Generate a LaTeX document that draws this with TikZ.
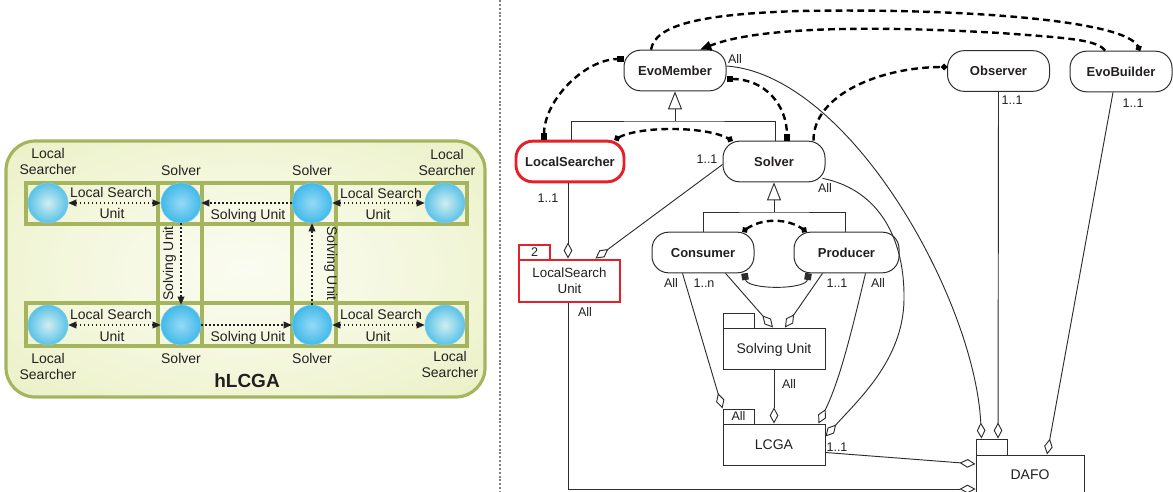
\documentclass[tikz,border=0pt]{standalone}
\usepackage{fontspec}
\setmainfont{Liberation Sans}
\usetikzlibrary{arrows.meta,calc}

% colours
\definecolor{panelin}{RGB}{251,252,242}
\definecolor{panelsoft}{RGB}{242,246,216}
\definecolor{panelmid}{RGB}{226,234,178}
\definecolor{panelout}{RGB}{204,218,128}
\definecolor{panelline}{RGB}{164,181,94}
\definecolor{lscore}{RGB}{208,238,240}
\definecolor{svcore}{RGB}{150,218,245}
\definecolor{ballout}{RGB}{0,160,224}
\definecolor{ballrim}{RGB}{120,205,240}
\definecolor{umlred}{RGB}{230,32,40}
\definecolor{ink}{RGB}{35,31,32}
\definecolor{umlline}{RGB}{45,45,45}

% shadings for the hLCGA panel and its agents
\pgfdeclareradialshading{panelshade}{\pgfpoint{0bp}{0bp}}{color(0bp)=(panelin); color(22bp)=(panelsoft); color(50bp)=(panelmid); color(71bp)=(panelout)}
\pgfdeclareradialshading{lsshade}{\pgfpoint{0bp}{0bp}}{color(0bp)=(lscore); color(44bp)=(ballout); color(47bp)=(ballout); color(50bp)=(ballrim)}
\pgfdeclareradialshading{svshade}{\pgfpoint{0bp}{0bp}}{color(0bp)=(svcore); color(44bp)=(ballout); color(47bp)=(ballout); color(50bp)=(ballrim)}

\tikzset{
  % arrow tips
  sqtip/.tip={Square[length=5pt,width=5pt]},
  dottip/.tip={Circle[length=4.5pt]},
  diam/.tip={Diamond[open,length=12pt,width=6.5pt]},
  gtri/.tip={Triangle[open,length=13.5pt,width=10.5pt]},
  ftri/.tip={Triangle[length=6pt,width=5pt]},
  deptri/.tip={Triangle[length=8.5pt,width=6.5pt]},
  % left panel
  panelgrid/.style={draw=panelline, line width=2.3pt},
  lsball/.style={circle, inner sep=0pt, minimum size=30pt, shade, shading=lsshade, draw=ballrim, line width=0.4pt},
  svball/.style={circle, inner sep=0pt, minimum size=30pt, shade, shading=svshade, draw=ballrim, line width=0.4pt},
  lsarrow/.style={draw=ink, dotted, line width=1pt, ftri-ftri},
  suarrow/.style={draw=ink, dotted, line width=1pt, -ftri},
  lbl/.style={font=\fontsize{10.5}{12}\selectfont, text=ink, inner sep=0pt, anchor=base},
  % right panel
  cls/.style={draw=umlline, line width=0.75pt, fill=white, rounded corners=12.5pt,
    minimum width=76.5pt, minimum height=30.5pt, inner sep=0pt, text=ink,
    font=\bfseries\fontsize{9.75}{11}\selectfont, text height=7pt, text depth=0pt},
  redcls/.style={cls, draw=umlred, line width=2.2pt, minimum width=81pt},
  pkg/.style={draw=umlline, line width=0.75pt, fill=white, minimum width=76.5pt,
    minimum height=30.75pt, inner sep=0pt, text=ink, font=\fontsize{10.5}{12}\selectfont},
  oneline/.style={text height=7.5pt, text depth=0pt},
  pkgtab/.style={draw=umlline, line width=0.75pt, fill=white, minimum width=23.25pt,
    minimum height=11.25pt, inner sep=0pt, text=ink, font=\fontsize{9.4}{10}\selectfont,
    text height=6.7pt, text depth=0pt},
  mult/.style={font=\fontsize{9.4}{10}\selectfont, text=ink, inner sep=0pt, anchor=base},
  assoc/.style={draw=umlline, line width=0.7pt},
  agg/.style={assoc, -diam},
  gen/.style={assoc, -gtri},
  dep/.style={draw=black, line width=1.8pt, dash pattern=on 5pt off 3.2pt},
}

\begin{document}
\begin{tikzpicture}[x=0.75pt, y=-0.75pt]
\useasboundingbox (0,0) rectangle (1173,492);

% ---------------- hLCGA panel ----------------
\path[shade, shading=panelshade, draw=panelline, line width=2.4pt, rounded corners=22pt]
  (6,141) rectangle (485,397);
\draw[panelgrid] (26,183) rectangle (467,224);
\draw[panelgrid] (26,303) rectangle (467,346);
\draw[panelgrid] (158,183) rectangle (202,346);
\draw[panelgrid] (292,183) rectangle (336,346);

\node[lsball] (lstl) at (48,203) {};
\node[svball] (svtl) at (181,203) {};
\node[svball] (svtr) at (312,203) {};
\node[lsball] (lstr) at (445,203) {};
\node[lsball] (lsbl) at (48,325) {};
\node[svball] (svbl) at (181,325) {};
\node[svball] (svbr) at (312,325) {};
\node[lsball] (lsbr) at (445,325) {};

\draw[lsarrow] (lstl) -- (svtl);
\draw[lsarrow] (svtr) -- (lstr);
\draw[lsarrow] (lsbl) -- (svbl);
\draw[lsarrow] (svbr) -- (lsbr);
\draw[suarrow] (svtr) -- (svtl);
\draw[suarrow] (svtl) -- (svbl);
\draw[suarrow] (svbl) -- (svbr);
\draw[suarrow] (svbr) -- (svtr);

\node[lbl] (tl1) at (48,158) {Local};
\node[lbl] (tl2) at (48,174) {Searcher};
\node[lbl] (tl3) at (181,175) {Solver};
\node[lbl] (tl4) at (312,175) {Solver};
\node[lbl] (tl5) at (447,159) {Local};
\node[lbl] (tl6) at (447,175) {Searcher};
\node[lbl] (tl7) at (111,197) {Local Search};
\node[lbl] (tl8) at (112,218) {Unit};
\node[lbl] (tl9) at (381,198) {Local Search};
\node[lbl] (tl10) at (378,219) {Unit};
\node[lbl] (tl11) at (248,219) {Solving Unit};
\node[lbl] (tl12) at (248,341) {Solving Unit};
\node[lbl, rotate=90] (tl13) at (173,263.5) {Solving Unit};
\node[lbl, rotate=-90] (tl14) at (327,263.5) {Solving Unit};
\node[lbl] (tl15) at (111,319) {Local Search};
\node[lbl] (tl16) at (112,341) {Unit};
\node[lbl] (tl17) at (381,319) {Local Search};
\node[lbl] (tl18) at (378,341) {Unit};
\node[lbl] (tl19) at (48,363) {Local};
\node[lbl] (tl20) at (48,379) {Searcher};
\node[lbl] (tl21) at (181,363) {Solver};
\node[lbl] (tl22) at (312,363) {Solver};
\node[lbl] (tl23) at (450,361) {Local};
\node[lbl] (tl24) at (450,377) {Searcher};
\node[lbl, font=\bfseries\fontsize{14.25}{16}\selectfont] (hlcga) at (247,387) {hLCGA};

% separator
\draw[gray, line width=1pt, dash pattern=on 1.5pt off 1.4pt] (500,0) -- (500,492);

% ---------------- UML class model ----------------
\node[cls] (em) at (675,70.5) {EvoMember};
\node[redcls] (ls) at (570,161.5) {LocalSearcher};
\node[cls] (sv) at (774,161.5) {Solver};
\node[cls] (ob) at (998.5,71) {Observer};
\node[cls] (eb) at (1121,71.5) {EvoBuilder};
\node[cls] (co) at (703,252.5) {Consumer};
\node[cls, minimum width=78.75pt] (pr) at (846.5,252.5) {Producer};

\node[pkgtab, draw=umlred, line width=2.2pt] (lsutab) at (534.5,252.5) {2};
\node[pkg, draw=umlred, line width=2.2pt, minimum width=75.75pt, minimum height=31.5pt,
  align=center, font=\fontsize{10}{12}\selectfont] (lsu) at (569.5,281) {LocalSearch\\Unit};
\node[pkgtab] (sutab) at (738.5,320.5) {};
\node[pkg, oneline] (su) at (774,348.5) {Solving Unit};
\node[pkgtab] (lcgatab) at (738.5,416.5) {All};
\node[pkg, oneline] (lcga) at (774,444.5) {LCGA};
\node[pkgtab, minimum height=12pt] (dafotab) at (991.5,447) {};
\node[pkg, oneline, minimum width=81pt, minimum height=29.25pt] (dafo) at (1030,474.5) {DAFO};

% generalisations
\coordinate (gj1) at (675,121);
\draw[gen] (gj1) -- (em.south);
\draw[assoc] ($(ls.north)+(1,0)$) |- (gj1) -| ($(sv.north)+(1,0)$);
\coordinate (gj2) at (774,212);
\draw[gen] (gj2) -- (sv.south);
\draw[assoc] (co.north) |- (gj2) -| ($(pr.north)+(-1.5,0)$);

% dependencies
\draw[dep, sqtip-sqtip] ($(ls.north)+(-26,0)$) .. controls (544,100) and (585,59) .. ($(em.west)+(0,-11.5)$);
\draw[dep, sqtip-sqtip] ($(em.east)+(0,8.5)$) .. controls (765,79) and (787,105) .. ($(sv.north)+(13,0)$);
\draw[dep, dottip-dottip] ($(ls.north east)+(-11,0)$) .. controls (640,126) and (705,126) .. ($(sv.north west)+(10,0)$);
\draw[dep, -dottip] ($(sv.north east)+(-12,0)$) .. controls (813,95) and (880,67) .. ($(ob.west)+(0,-4)$);
\draw[dep, -dottip] ($(em.north)+(-24,0)$) .. controls (655,25) and (700,14) .. (800,11)
  .. controls (960,8) and (1125,20) .. ($(eb.north)+(19,0)$);
\draw[dep, -deptri] ($(eb.north)+(-16,0)$) .. controls (1098,40) and (1070,38) .. (1000,33)
  .. controls (880,26) and (760,26) .. ($(em.north)+(25,0)$);
\draw[dep, dottip-dottip] ($(co.north east)+(-12,0)$) .. controls (762,218) and (787,218) .. ($(pr.north west)+(13,0)$);
\draw[assoc, sqtip-sqtip] ($(co.south east)+(-10,0)$) .. controls (747,290) and (806,290) .. ($(pr.south west)+(15,0)$);

% aggregations
\draw[agg] ($(ls.south)+(-2,0)$) -- ($(lsu.north)+(-1.5,0)$);
\draw[agg] ($(sv.west)+(0,3)$) -- ($(lsu.north east)+(-26,0)$);
\draw[agg] ($(lsu.south)+(-1.5,0)$) |- ($(dafo.west)+(0,14.5)$);
\draw[agg] ($(co.south west)+(31,0)$) -- (lcgatab.north west);
\draw[agg] ($(co.south east)+(-29,0)$) -- ($(su.north)+(-1,0)$);
\draw[agg] ($(pr.south west)+(29,0)$) -- ($(su.north)+(11,0)$);
\draw[agg] ($(pr.south east)+(-34,0)$) .. controls (852,330) and (840,380) .. ($(lcga.north east)+(-7,0)$);
\draw[agg] ($(sv.south east)+(-3,-4)$) .. controls (880,190) and (905,240) .. (904,300)
  .. controls (903,360) and (858,400) .. ($(lcga.east)+(0,-8)$);
\draw[agg] (su.south) -- (lcga.north);
\draw[agg] ($(em.east)+(0,-4.5)$) .. controls (850,75) and (975,300) .. ($(dafotab.north west)+(6,0)$);
\draw[agg] (ob.south) -- ($(dafotab.north)+(6.5,0)$);
\draw[agg] ($(eb.south)+(-8,0)$) -- ($(dafo.north)+(17,0)$);
\draw[agg] ($(lcga.east)+(0,8)$) -- ($(dafo.west)+(0,-10.5)$);

% multiplicities
\node[mult] (m1) at (735,64) {All};
\node[mult] (m2) at (548,202) {1..1};
\node[mult] (m3) at (707,163) {1..1};
\node[mult] (m4) at (825,192) {All};
\node[mult] (m5) at (585,316) {All};
\node[mult] (m6) at (671,287) {All};
\node[mult] (m7) at (704,287) {1..n};
\node[mult] (m8) at (837,287) {1..1};
\node[mult] (m9) at (878,287) {All};
\node[mult] (m10) at (789,388) {All};
\node[mult] (m11) at (837,451) {1..1};
\node[mult] (m12) at (1012,104) {1..1};
\node[mult] (m13) at (1133,107) {1..1};
\end{tikzpicture}
\end{document}
